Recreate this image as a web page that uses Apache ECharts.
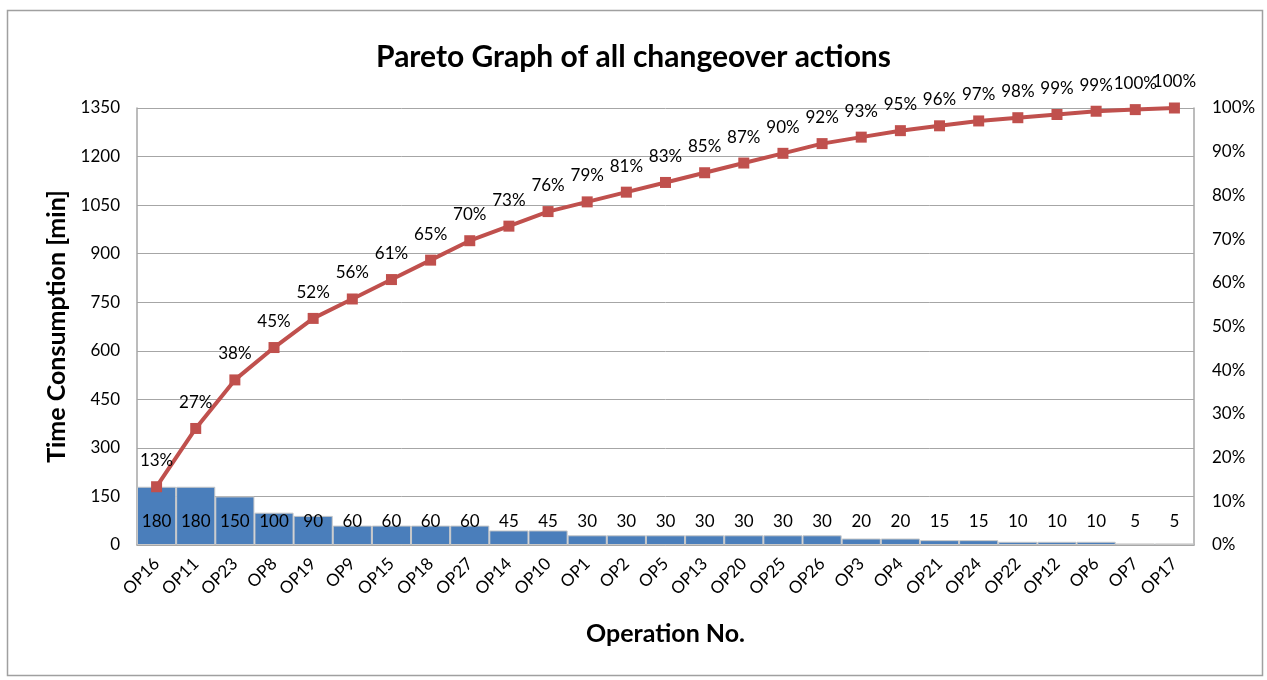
<!DOCTYPE html>
<html>
<head>
<meta charset="utf-8">
<script src="https://cdn.jsdelivr.net/npm/echarts@6/dist/echarts.min.js"></script>
<style>
html,body{margin:0;padding:0;background:#fff;}
#chart{width:1267px;height:680px;}
</style>
</head>
<body>
<div id="chart"></div>
<script>
var categories = ['OP16','OP11','OP23','OP8','OP19','OP9','OP15','OP18','OP27','OP14','OP10','OP1','OP2','OP5','OP13','OP20','OP25','OP26','OP3','OP4','OP21','OP24','OP22','OP12','OP6','OP7','OP17'];
var timeValues = [180,180,150,100,90,60,60,60,60,45,45,30,30,30,30,30,30,30,20,20,15,15,10,10,10,5,5];
var cumulativeValues = [180,360,510,610,700,760,820,880,940,985,1030,1060,1090,1120,1150,1180,1210,1240,1260,1280,1295,1310,1320,1330,1340,1345,1350];
var cumulativeLabels = ['13%','27%','38%','45%','52%','56%','61%','65%','70%','73%','76%','79%','81%','83%','85%','87%','90%','92%','93%','95%','96%','97%','98%','99%','99%','100%','100%'];
var leftTicks = [0,150,300,450,600,750,900,1050,1200,1350];
var rightTicks = ['0%','10%','20%','30%','40%','50%','60%','70%','80%','90%','100%'];

var FONT = 'Lato, "Open Sans", sans-serif';
var chart = echarts.init(document.getElementById('chart'), null, {renderer:'canvas'});
chart.setOption({
  animation:false,
  backgroundColor:'#ffffff',
  textStyle:{fontFamily:FONT},
  graphic:[{
    type:'rect', shape:{x:7.5,y:10.5,width:1255,height:665},
    style:{fill:'none',stroke:'#a0a0a0',lineWidth:1.5}, silent:true, z:-10
  }],
  title:{
    text:'Pareto Graph of all changeover actions',
    left:'center', top:37,
    textStyle:{fontFamily:FONT,fontSize:30,fontWeight:'bold',color:'#000'}
  },
  grid:{left:137,right:73,top:108,bottom:135},
  xAxis:{
    type:'category', data:categories, boundaryGap:true,
    name:'Operation No.', nameLocation:'middle', nameGap:76,
    nameTextStyle:{fontFamily:FONT,fontSize:25,fontWeight:'bold',color:'#000'},
    axisLine:{lineStyle:{color:'#a6a6a6',width:1.5}},
    axisTick:{show:false},
    axisLabel:{rotate:45,fontSize:17,color:'#000',fontFamily:FONT,margin:16,interval:0}
  },
  yAxis:[{
    type:'value', min:0, max:1350, interval:150,
    name:'Time Consumption [min]', nameLocation:'middle', nameGap:62,
    nameTextStyle:{fontFamily:FONT,fontSize:25,fontWeight:'bold',color:'#000'},
    axisLine:{show:true,lineStyle:{color:'#a6a6a6',width:1.5}},
    axisTick:{show:false},
    splitLine:{lineStyle:{color:'#a6a6a6',width:1}},
    axisLabel:{fontSize:17,color:'#000',fontFamily:FONT,margin:17,
      formatter:function(v){ var i = leftTicks.indexOf(v); return i>=0 ? String(leftTicks[i]) : ''; }}
  },{
    type:'value', min:0, max:1, interval:0.1,
    axisLine:{show:true,lineStyle:{color:'#a6a6a6',width:1.5}},
    axisTick:{show:false},
    splitLine:{show:false},
    axisLabel:{fontSize:17,color:'#000',fontFamily:FONT,margin:18,
      formatter:function(v){ return rightTicks[Math.round(v*10)]; }}
  }],
  series:[{
    type:'bar', data:timeValues, yAxisIndex:0,
    barCategoryGap:'0%',
    itemStyle:{color:'#4a7ebb',borderColor:'#c8c8c8',borderWidth:1},
    label:{show:true,position:'insideBottom',distance:15,fontSize:17,color:'#000',fontFamily:FONT},
    z:2
  },{
    type:'line', data:cumulativeValues, yAxisIndex:0,
    symbol:'rect', symbolSize:11,
    lineStyle:{color:'#c0504d',width:4},
    itemStyle:{color:'#c0504d'},
    label:{show:true,position:'top',distance:12,fontSize:17,color:'#000',fontFamily:FONT,
      formatter:function(p){ return cumulativeLabels[p.dataIndex]; }},
    z:5
  }]
});
</script>
</body>
</html>
